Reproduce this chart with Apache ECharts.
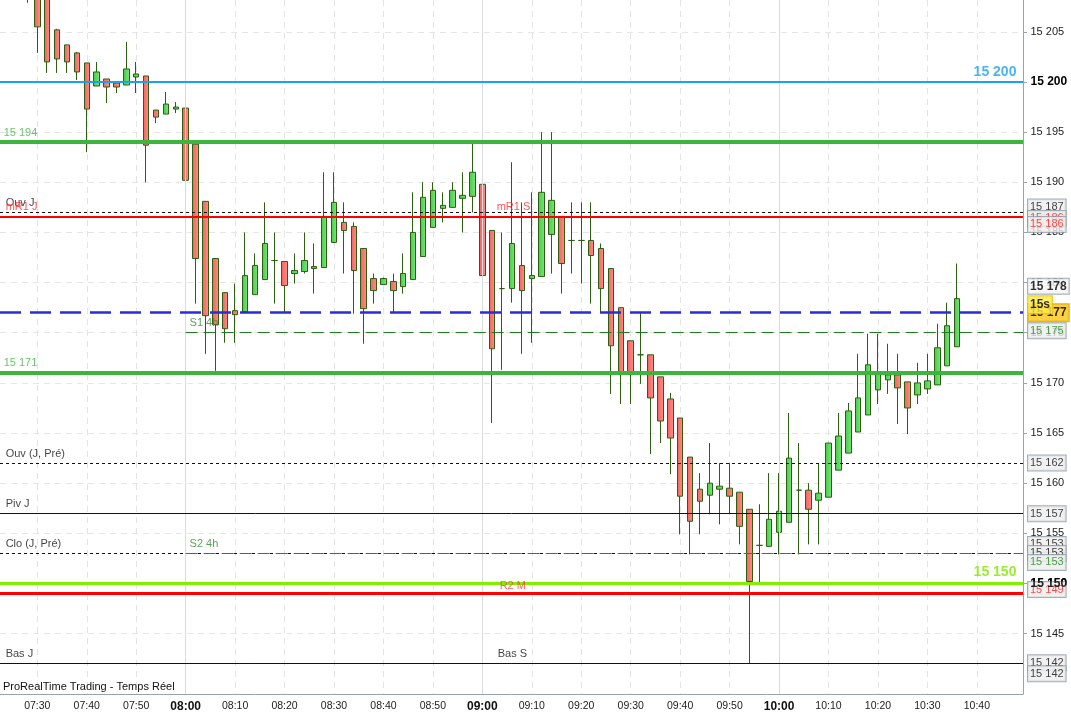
<!DOCTYPE html>
<html>
<head>
<meta charset="utf-8">
<title>FDAX 2 min</title>
<script src="https://cdn.jsdelivr.net/npm/echarts@6/dist/echarts.min.js"></script>
<style>
html,body{margin:0;padding:0;background:#fff;}
#chart{width:1071px;height:713px;}
</style>
</head>
<body>
<div id="chart"></div>
<script>
// ---- data ----
var candleTimes = ['07:28','07:30','07:32','07:34','07:36','07:38','07:40','07:42','07:44','07:46',
    '07:48','07:50','07:52','07:54','07:56','07:58','08:00','08:02','08:04','08:06',
    '08:08','08:10','08:12','08:14','08:16','08:18','08:20','08:22','08:24','08:26',
    '08:28','08:30','08:32','08:34','08:36','08:38','08:40','08:42','08:44','08:46',
    '08:48','08:50','08:52','08:54','08:56','08:58','09:00','09:02','09:04','09:06',
    '09:08','09:10','09:12','09:14','09:16','09:18','09:20','09:22','09:24','09:26',
    '09:28','09:30','09:32','09:34','09:36','09:38','09:40','09:42','09:44','09:46',
    '09:48','09:50','09:52','09:54','09:56','09:58','10:00','10:02','10:04','10:06',
    '10:08','10:10','10:12','10:14','10:16','10:18','10:20','10:22','10:24','10:26',
    '10:28','10:30','10:32','10:34','10:36'];

// [open, close, low, high]
var candleOHLC = [
    [15212,15210,15207.9,15213],[15211,15205.5,15202.9,15212],[15209,15202.0,15200.9,15210],
    [15205.2,15202.3,15200.9,15205.3],[15203.7,15202.0,15200.9,15203.7],[15202.9,15201.0,15200.2,15203.0],
    [15201.9,15197.3,15193.0,15201.9],[15199.6,15201.0,15199.6,15202.0],[15200.3,15199.5,15197.9,15200.3],
    [15199.9,15199.5,15198.9,15199.9],[15199.7,15201.3,15199.7,15204.0],[15200.5,15200.8,15198.9,15202.0],
    [15200.6,15193.7,15190.0,15200.6],[15197.2,15196.5,15195.9,15197.2],[15196.8,15197.8,15196.8,15199.0],
    [15197.3,15197.5,15196.9,15198.0],[15197.4,15190.2,15179.9,15199.0],[15193.8,15182.4,15177.9,15193.8],
    [15188.1,15176.7,15172.9,15188.1],[15182.4,15175.8,15171.2,15182.4],[15179.0,15175.4,15174.0,15179.0],
    [15177.2,15176.8,15174.0,15179.9],[15177.1,15180.7,15177.1,15185.0],[15178.8,15181.7,15178.8,15182.9],
    [15180.3,15183.9,15180.3,15188.0],[15182.2,15182.2,15177.9,15185.0],[15182.1,15179.7,15177.0,15182.1],
    [15180.9,15181.2,15179.9,15182.9],[15181.1,15182.2,15180.9,15185.0],[15181.6,15181.4,15178.9,15183.9],
    [15181.5,15186.6,15181.5,15191.0],[15184.0,15188.0,15184.0,15191.0],[15186.0,15185.2,15180.9,15188.0],
    [15185.6,15181.2,15176.9,15186.0],[15183.4,15177.4,15173.9,15183.4],[15180.4,15179.2,15177.9,15180.9],
    [15179.8,15180.4,15179.8,15180.5],[15180.1,15179.2,15177.0,15180.9],[15179.6,15180.9,15178.9,15182.9],
    [15180.3,15185.0,15180.3,15189.0],[15182.6,15188.5,15182.6,15190.0],[15185.5,15189.2,15185.5,15190.0],
    [15187.4,15187.7,15186.0,15189.0],[15187.5,15189.2,15187.5,15190.0],[15188.4,15188.7,15185.0,15191.0],
    [15188.6,15191.0,15187.0,15194.0],[15189.8,15180.7,15168.0,15192.0],[15185.2,15173.4,15166.0,15185.2],
    [15179.4,15179.4,15171.3,15185.0],[15179.4,15183.9,15178.0,15192.0],[15181.7,15179.2,15172.9,15188.0],
    [15180.4,15180.7,15174.0,15189.0],[15180.6,15189.0,15180.6,15195.0],[15184.8,15188.2,15180.9,15195.0],
    [15186.6,15181.9,15178.9,15186.6],[15184.2,15184.2,15180.9,15188.0],[15184.2,15184.2,15179.9,15188.0],
    [15184.2,15182.7,15177.9,15188.0],[15183.4,15179.4,15177.0,15183.9],[15181.4,15173.7,15168.9,15181.4],
    [15177.5,15170.9,15167.9,15177.5],[15174.2,15170.9,15167.9,15174.2],[15172.8,15172.8,15169.9,15177.0],
    [15172.8,15168.5,15162.9,15172.8],[15170.6,15166.2,15164.0,15170.6],[15168.4,15164.5,15160.9,15169.0],
    [15166.5,15158.7,15154.9,15166.5],[15162.6,15156.2,15152.9,15162.6],[15159.4,15158.2,15154.9,15161.0],
    [15158.8,15160.0,15156.9,15164.0],[15159.4,15159.7,15155.9,15162.0],[15159.5,15158.7,15156.9,15162.0],
    [15159.1,15155.7,15153.9,15159.1],[15157.4,15150.2,15142.0,15157.4],[15153.8,15153.8,15150.1,15157.9],
    [15153.7,15156.4,15153.7,15161.0],[15155.1,15157.2,15152.9,15161.0],[15156.1,15162.5,15156.1,15167.0],
    [15159.3,15159.3,15152.9,15164.0],[15159.3,15157.4,15153.9,15160.0],[15158.3,15159.0,15153.9,15162.0],
    [15158.6,15164.0,15158.6,15164.0],[15161.3,15164.7,15161.3,15167.0],[15163.0,15167.2,15163.0,15168.0],
    [15165.1,15168.5,15165.1,15172.9],[15166.8,15171.8,15166.8,15174.9],[15169.3,15171.0,15167.9,15174.9],
    [15170.3,15170.8,15168.9,15173.9],[15170.8,15169.5,15165.9,15172.9],[15170.1,15167.5,15164.9,15170.1],
    [15168.8,15170.0,15167.9,15172.0],[15169.4,15170.2,15168.9,15172.9],[15169.8,15173.5,15169.8,15175.9],
    [15171.7,15175.7,15171.7,15178.0],[15173.6,15178.4,15173.6,15181.9]
];

var timeTicks = ['07:30','07:40','07:50','08:00','08:10','08:20','08:30','08:40','08:50','09:00',
                 '09:10','09:20','09:30','09:40','09:50','10:00','10:10','10:20','10:30','10:40'];
var hourLines = ['08:00', '09:00', '10:00'];
var priceTicks = [15145, 15150, 15155, 15160, 15165, 15170, 15175, 15180, 15185,
                  15190, 15195, 15200, 15205];

var levelNames  = ['15 200', '15 194', 'Ouv J', 'mR1 J', 'mR1 S', 'Ordre', 'S1 4h', '15 171',
                   'Ouv (J, Pré)', 'Piv J', 'Clo (J, Pré)', 'S2 4h', '15 150', 'R2 M', 'Bas J', 'Bas S'];
var levelPrices = [15200, 15194, 15187, 15186.6, 15186.6, 15177, 15175, 15171,
                   15162, 15157, 15153, 15153, 15150, 15149, 15142, 15142];
var levelStart  = [null, null, null, null, null, null, '08:00', null,
                   null, null, null, '08:00', null, null, null, null];

var tagTexts  = ['15 187', '15 186', '15 186', '15 178', '15 177', '15s', '15 175', '15 162',
                 '15 157', '15 153', '15 153', '15 153', '15 149', '15 150', '15 142', '15 142'];
var tagPrices = [15187, 15186.6, 15186.6, 15178.4, 15177, 15177, 15175, 15162,
                 15157, 15153, 15153, 15153, 15149, 15150, 15142, 15142];

// ---- layout / style ----
var FONT = '"Liberation Sans", Arial, sans-serif';
var X_MIN = 442.457, X_MAX = 649.33;     // minutes since midnight
var Y_MIN = 15138.98, Y_MAX = 15208.175;

var levelStyle = {
    '15 200':       {color: '#1ea1ec', width: 2, type: 'solid', text: {at: 648.1, side: 'right', color: '#1ea1ec', size: 14, bold: true, dy: -10}},
    '15 194':       {color: '#3db43d', width: 4, type: 'solid', text: {at: 443.3, color: '#46b446'}},
    'Ouv J':        {color: '#111111', width: 1, type: [3, 3], text: {at: 443.7, color: '#111'}},
    'mR1 J':        {color: '#ff0000', width: 2, type: 'solid', text: {at: 443.7, color: '#ff2a2a'}},
    'mR1 S':        {color: '#ff0000', width: 2, type: 'solid', text: {at: 543.0, color: '#ff2a2a'}},
    'Ordre':        {color: '#2b2bd8', width: 2.5, type: [21, 9], text: null},
    'S1 4h':        {color: '#1f7d1f', width: 1, type: [12, 6], text: {at: 480.9, color: '#2f8a2f'}},
    '15 171':       {color: '#3db43d', width: 4, type: 'solid', text: {at: 443.3, color: '#46b446'}},
    'Ouv (J, Pré)': {color: '#111111', width: 1, type: [3, 3], text: {at: 443.7, color: '#111'}},
    'Piv J':        {color: '#111111', width: 1, type: 'solid', text: {at: 443.7, color: '#111'}},
    'Clo (J, Pré)': {color: '#111111', width: 1, type: [3, 3], text: {at: 443.7, color: '#111'}},
    'S2 4h':        {color: '#1f8a1f', width: 1, type: [12, 6], text: {at: 480.9, color: '#2f8a2f'}},
    '15 150':       {color: '#80f000', width: 3, type: 'solid', text: {at: 648.1, side: 'right', color: '#84e600', size: 14, bold: true, dy: -11}},
    'R2 M':         {color: '#ff0000', width: 3, type: 'solid', text: {at: 543.6, color: '#ff3a3a', dy: -13}},
    'Bas J':        {color: '#111111', width: 1, type: 'solid', text: {at: 443.7, color: '#111'}},
    'Bas S':        {color: '#111111', width: 1, type: 'solid', text: {at: 543.2, color: '#111'}}
};

// kind and vertical shift of each price tag on the right scale
var tagStyle = [
    {kind: 'box', color: '#111', dy: -5.5}, {kind: 'box', color: '#ff2020', dy: 2}, {kind: 'box', color: '#ff2020', dy: 8},
    {kind: 'last', color: '#000', dy: -12.4}, {kind: 'gold', color: '#000', dy: 0}, {kind: 'timer', color: '#000', dy: -8},
    {kind: 'box', color: '#1f8f1f', dy: -2}, {kind: 'box', color: '#111', dy: 0}, {kind: 'box', color: '#111', dy: 0.5},
    {kind: 'box', color: '#111', dy: -9}, {kind: 'box', color: '#111', dy: 0}, {kind: 'box', color: '#1f8f1f', dy: 9},
    {kind: 'box', color: '#ff2020', dy: -4}, {kind: 'plain', color: '#000', dy: 0},
    {kind: 'box', color: '#111', dy: -1}, {kind: 'box', color: '#111', dy: 10}
];

function toMin(s) {
    var p = s.split(':');
    return parseInt(p[0], 10) * 60 + parseInt(p[1], 10);
}
function fmtTime(m) {
    var h = Math.floor(m / 60), mm = m % 60;
    return (h < 10 ? '0' : '') + h + ':' + (mm < 10 ? '0' : '') + mm;
}
function fmtPrice(v) {
    v = Math.floor(v + 1e-6);
    var r = v % 1000;
    return Math.floor(v / 1000) + ' ' + (r < 10 ? '00' : (r < 100 ? '0' : '')) + r;
}

var candleData = candleOHLC.map(function (d, i) {
    return [toMin(candleTimes[i]), d[0], d[1], d[2], d[3]];
});
var timeTickValues = timeTicks.map(toMin);

var levelLines = [];
var levelTexts = [];
levelNames.forEach(function (name, i) {
    var st = levelStyle[name];
    var v = levelPrices[i];
    var ls = {color: st.color, width: st.width, type: st.type};
    if (levelStart[i]) {
        levelLines.push([{coord: [toMin(levelStart[i]), v], lineStyle: ls}, {coord: [X_MAX, v]}]);
    } else {
        levelLines.push({yAxis: v, lineStyle: ls});
    }
    if (st.text) {
        var t = st.text;
        var lab = {
            show: true,
            formatter: name,
            color: t.color,
            fontFamily: FONT,
            fontSize: t.size || 11,
            fontWeight: t.bold ? 'bold' : 'normal',
            lineHeight: 12
        };
        if (t.side === 'right') {
            lab.position = 'left';
            lab.distance = 0;
            lab.offset = [0, t.dy];
        } else {
            lab.position = [0, t.dy || -15];
        }
        levelTexts.push({value: [t.at, v], label: lab});
    }
});

var tagData = tagTexts.map(function (txt, i) {
    var st = tagStyle[i];
    var lab = {
        show: true,
        position: 'right',
        distance: 4.5,
        offset: [0, st.dy],
        formatter: txt,
        color: st.color,
        fontFamily: FONT,
        fontSize: 11,
        lineHeight: 12,
        padding: [2, 2, 1, 2],
        backgroundColor: '#eeeeee',
        borderColor: '#8f9ba5',
        borderWidth: 1
    };
    if (st.kind === 'last') {
        lab.fontSize = 12; lab.fontWeight = 'bold'; lab.backgroundColor = '#f6f6f6';
    } else if (st.kind === 'gold') {
        lab.fontSize = 12; lab.fontWeight = 'bold'; lab.lineHeight = 14;
        lab.backgroundColor = '#fcc616'; lab.borderColor = '#c9a100';
    } else if (st.kind === 'timer') {
        lab.fontSize = 12; lab.fontWeight = 'bold'; lab.lineHeight = 13;
        lab.backgroundColor = '#ffea4d'; lab.borderColor = '#e6c200';
        lab.padding = [2, 2, 2, 2];
    } else if (st.kind === 'plain') {
        lab.fontSize = 12; lab.fontWeight = 'bold';
        lab.backgroundColor = 'transparent'; lab.borderWidth = 0;
        lab.padding = 0;
        lab.distance = 7;
    }
    return {value: [X_MAX, tagPrices[i]], label: lab};
});

var chart = echarts.init(document.getElementById('chart'));

var option = {
    animation: false,
    backgroundColor: '#ffffff',
    title: {
        text: 'ProRealTime Trading - Temps Réel',
        left: 3,
        top: 681,
        padding: 0,
        textStyle: {fontFamily: FONT, fontSize: 11, fontWeight: 'normal', color: '#111'}
    },
    grid: {left: 0, right: 48, top: 0, bottom: 19},
    xAxis: {
        type: 'value', min: X_MIN, max: X_MAX,
        axisLine: {lineStyle: {color: '#97a3ad', width: 1}},
        axisTick: {show: false, customValues: timeTickValues},
        splitLine: {show: true, lineStyle: {color: '#e4e4e4', type: [6, 5]}},
        axisLabel: {
            customValues: timeTickValues,
            margin: 7,
            color: '#222',
            fontFamily: FONT,
            fontSize: 10.5,
            formatter: function (v) {
                var m = Math.round(v);
                var s = fmtTime(m);
                return (m % 60 === 0) ? '{b|' + s + '}' : s;
            },
            rich: {b: {fontFamily: FONT, fontSize: 12, fontWeight: 'bold', color: '#111'}}
        }
    },
    yAxis: {
        type: 'value', position: 'right',
        min: Y_MIN, max: Y_MAX,
        axisLine: {show: true, lineStyle: {color: '#97a3ad', width: 1}},
        axisTick: {show: true, length: 4, customValues: priceTicks, lineStyle: {color: '#97a3ad'}},
        splitLine: {show: true, lineStyle: {color: '#e6e6e6', type: [6, 5]}},
        axisLabel: {
            customValues: priceTicks,
            margin: 7.5,
            color: '#222',
            fontFamily: FONT,
            fontSize: 11,
            formatter: function (v) {
                var s = fmtPrice(v);
                return (Math.round(v) % 50 === 0) ? '{b|' + s + '}' : s;
            },
            rich: {b: {fontFamily: FONT, fontSize: 12, fontWeight: 'bold', color: '#000'}}
        }
    },
    series: [
        {
            name: 'heures',
            type: 'line',
            data: [],
            z: 1,
            markLine: {
                silent: true,
                symbol: ['none', 'none'],
                label: {show: false},
                lineStyle: {color: '#d9dbe3', type: 'solid', width: 1},
                data: hourLines.map(function (h) { return {xAxis: toMin(h)}; })
            }
        },
        {
            name: 'FDAX',
            type: 'candlestick',
            z: 2,
            barWidth: 6,
            encode: {x: 0, y: [1, 2, 3, 4]},
            data: candleData,
            itemStyle: {
                color: {type: 'linear', x: 0, y: 0, x2: 1, y2: 0,
                        colorStops: [{offset: 0, color: '#42cc42'}, {offset: 1, color: '#7de57d'}]},
                color0: {type: 'linear', x: 0, y: 0, x2: 1, y2: 0,
                         colorStops: [{offset: 0, color: '#f0625b'}, {offset: 1, color: '#ff8f88'}]},
                borderColor: '#2d5e12',
                borderColor0: '#2d5e12',
                borderColorDoji: '#2d5e12',
                borderWidth: 1
            }
        },
        {
            name: 'niveaux',
            type: 'line',
            data: [],
            z: 4,
            markLine: {
                silent: true,
                symbol: ['none', 'none'],
                label: {show: false},
                data: levelLines
            }
        },
        {
            name: 'textes',
            type: 'scatter',
            z: 5,
            silent: true,
            symbolSize: 1,
            itemStyle: {color: 'rgba(0,0,0,0)'},
            data: levelTexts
        },
        {
            name: 'etiquettes',
            type: 'scatter',
            z: 6,
            silent: true,
            clip: false,
            symbolSize: 1,
            itemStyle: {color: 'rgba(0,0,0,0)'},
            data: tagData
        }
    ]
};

chart.setOption(option);
</script>
</body>
</html>
